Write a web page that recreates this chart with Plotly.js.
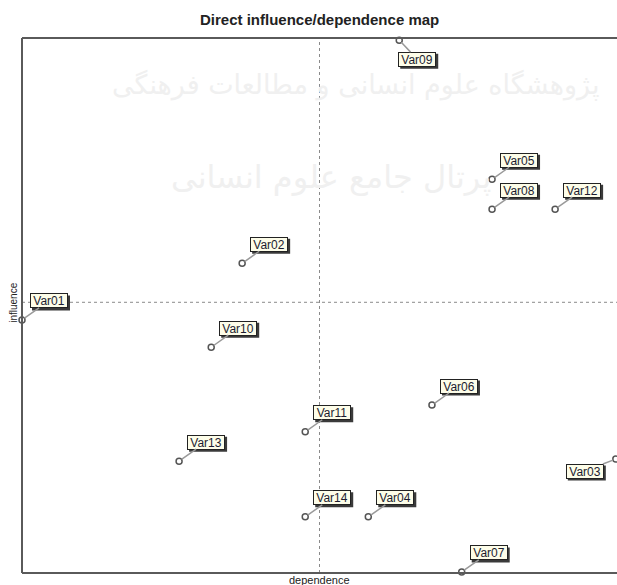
<!DOCTYPE html>
<html>
<head>
<meta charset="utf-8">
<script src="https://cdn.plot.ly/plotly-3.0.1.min.js"></script>
<style>html,body{margin:0;padding:0;background:#fff;overflow:hidden;}#chart{width:617px;height:585px;}</style>
</head>
<body>
<div id="chart"></div>
<script>
// ---- data ----
var variables = ["Var01","Var02","Var03","Var04","Var05","Var06","Var07","Var08","Var09","Var10","Var11","Var12","Var13","Var14"];
var dependence = [0.0, 37.0, 99.8, 58.2, 79.0, 68.9, 73.9, 79.0, 63.4, 31.8, 47.6, 89.6, 26.4, 47.6];
var influence  = [47.3, 57.9, 21.3, 10.5, 73.6, 31.4, 0.2, 68.0, 99.6, 42.2, 26.4, 68.0, 20.9, 10.5];
var meanDependence = 50.0;
var meanInfluence = 50.6;
var titleText = "Direct influence/dependence map";
var xTitle = "dependence";
var yTitle = "influence";
var watermark = ["پژوهشگاه علوم انسانی و مطالعات فرهنگی", "پرتال جامع علوم انسانی"];

// ---- label placement (styling, pixels) ----
var defaultOffset = [27, -19];
var specialOffset = { "Var09": [18, 19], "Var03": [-31, 12] };

var annotations = [];
var shapes = [];

// faint watermark
annotations.push({xref:'x', yref:'paper', x:56, y:0.945, text:watermark[0], showarrow:false,
  font:{family:'DejaVu Sans', size:27, color:'#f0f0f0'}});
annotations.push({xref:'x', yref:'paper', x:52, y:0.78, text:watermark[1], showarrow:false,
  font:{family:'DejaVu Sans', size:32, color:'#f0f0f0'}});

// frame lines (top, left, bottom)
var frameStyle = {color:'#5a5a5a', width:2};
shapes.push({type:'line', xref:'paper', yref:'paper', x0:0, x1:1, y0:1, y1:1, line:frameStyle, layer:'above'});
shapes.push({type:'line', xref:'paper', yref:'paper', x0:0, x1:0, y0:0, y1:1, line:frameStyle, layer:'above'});
shapes.push({type:'line', xref:'paper', yref:'paper', x0:0, x1:1, y0:0, y1:0, line:frameStyle, layer:'above'});
// mean crosshair
shapes.push({type:'line', xref:'x', yref:'paper', x0:meanDependence, x1:meanDependence, y0:0, y1:1,
  line:{color:'#8a8a8a', width:1, dash:'dot'}, layer:'below'});
shapes.push({type:'line', xref:'paper', yref:'y', x0:0, x1:1, y0:meanInfluence, y1:meanInfluence,
  line:{color:'#8a8a8a', width:1, dash:'dot'}, layer:'below'});

var boxW = 38, boxH = 15;
for (var i = 0; i < variables.length; i++) {
  var off = specialOffset[variables[i]] || defaultOffset;
  // shadow behind label box
  shapes.push({type:'rect', xref:'x', yref:'y', xsizemode:'pixel', ysizemode:'pixel',
    xanchor:dependence[i], yanchor:influence[i],
    x0:off[0]-boxW/2+2, x1:off[0]+boxW/2+2, y0:-off[1]-boxH/2-2, y1:-off[1]+boxH/2-2,
    fillcolor:'#3a3a3a', line:{width:0}, layer:'above'});
  annotations.push({x:dependence[i], y:influence[i], xref:'x', yref:'y', text:variables[i],
    showarrow:true, arrowhead:0, arrowwidth:1.5, arrowcolor:'#9a9a9a', standoff:3,
    ax:off[0], ay:off[1], bgcolor:'#fdfde9', bordercolor:'#222', borderwidth:1, borderpad:0,
    width:boxW-2, height:boxH-2,
    font:{family:'Liberation Sans, Arial', size:12, color:'#1c1c30'}});
}

// axis titles and chart title
annotations.push({xref:'x', yref:'paper', x:meanDependence, y:0, yshift:1, yanchor:'top', text:xTitle, showarrow:false,
  font:{family:'Liberation Sans, Arial', size:11, color:'#222'}});
annotations.push({xref:'paper', yref:'y', x:0, xanchor:'right', xshift:-1, y:meanInfluence, textangle:-90, text:yTitle, showarrow:false,
  font:{family:'Liberation Sans, Arial', size:10, color:'#222'}});
annotations.push({xref:'x', yref:'paper', x:meanDependence, y:1, yshift:19, yanchor:'middle', text:'<b>'+titleText+'</b>', showarrow:false,
  font:{family:'Liberation Sans, Arial', size:15, color:'#222'}});

var trace = {
  type:'scatter', mode:'markers', x:dependence, y:influence, text:variables,
  marker:{symbol:'circle-open', size:6, color:'#555', line:{width:1.5, color:'#555'}},
  cliponaxis:false, hoverinfo:'text'
};

var layout = {
  width:617, height:585,
  margin:{l:22, r:0, t:38, b:12, pad:0},
  paper_bgcolor:'#ffffff', plot_bgcolor:'rgba(0,0,0,0)',
  xaxis:{range:[0,100], showgrid:false, zeroline:false, showticklabels:false, ticks:'', showline:false, fixedrange:true},
  yaxis:{range:[0,100], showgrid:false, zeroline:false, showticklabels:false, ticks:'', showline:false, fixedrange:true},
  showlegend:false,
  shapes:shapes,
  annotations:annotations
};

Plotly.newPlot('chart', [trace], layout, {staticPlot:true, displayModeBar:false});
</script>
</body>
</html>
